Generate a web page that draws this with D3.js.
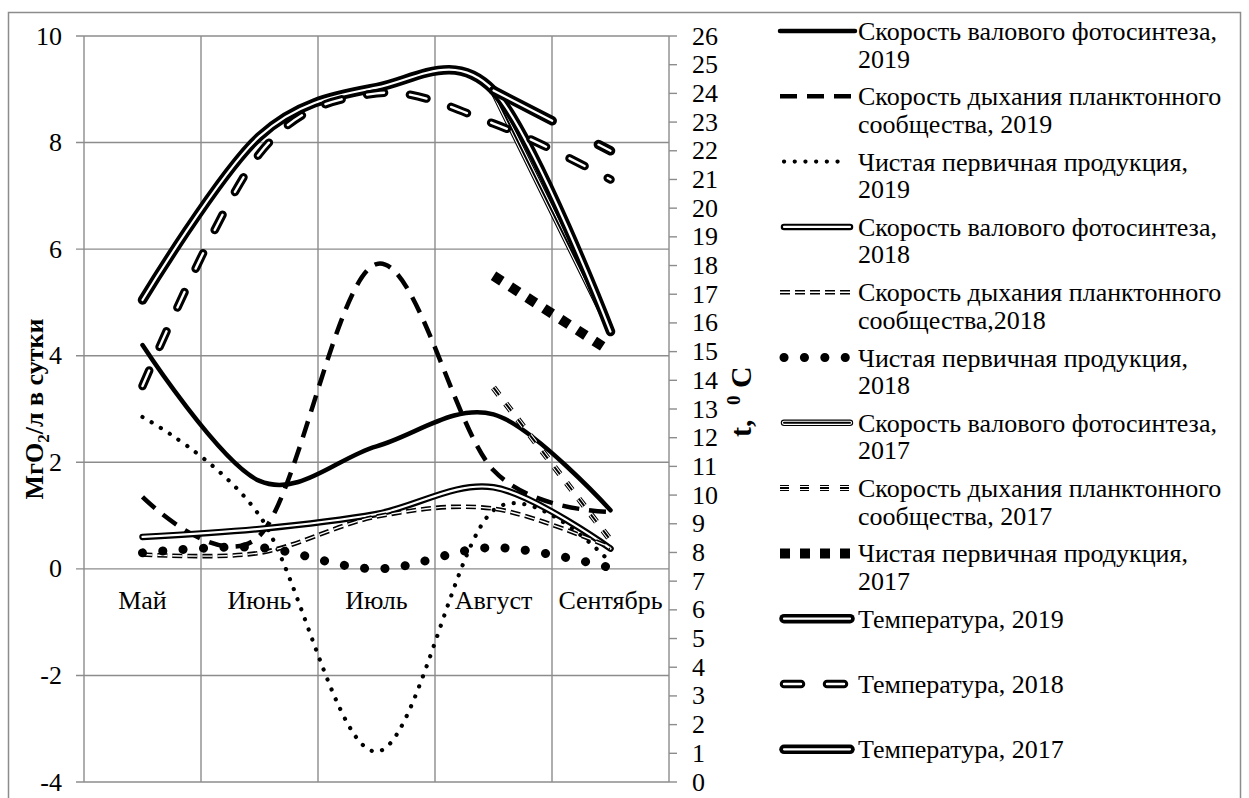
<!DOCTYPE html>
<html><head><meta charset="utf-8">
<script src="https://cdn.jsdelivr.net/npm/d3@7"></script>
<style>
body{margin:0;background:#fff}
</style>
</head><body>
<svg id="c" width="1249" height="798"></svg>
<script>
// ---------- data ----------
const months = ["Май", "Июнь", "Июль", "Август", "Сентябрь"];
const gpp2019  = [4.2, 1.65, 2.3, 2.9, 1.1];
const resp2019 = [1.35, 0.62, 5.72, 1.85, 1.07];
const npp2019  = [2.85, 1.0, -3.43, 1.1, 0.12];
const gpp2018  = [0.6, 0.75, 1.03, 1.53, 0.38];
const resp2018 = [0.27, 0.3, 0.98, 1.13, 0.4];
const npp2018  = [0.3, 0.4, 0.0, 0.4, 0.02];
const gpp2017  = [null, null, null, 8.95, 4.48];
const resp2017 = [null, null, null, 3.4, 0.54];
const npp2017  = [null, null, null, 5.5, 4.08];
const temp2019 = [16.8, 22.5, 24.2, 24.1, 15.7];
const temp2018 = [13.8, 21.9, 24.0, 22.95, 21.0];
const temp2017 = [null, null, null, 24.1, 22.0];
const leftTicks = [-4, -2, 0, 2, 4, 6, 8, 10];
const rightTicks = [0,1,2,3,4,5,6,7,8,9,10,11,12,13,14,15,16,17,18,19,20,21,22,23,24,25,26];
const leftTitle = ["МгО", "2", "/л в сутки"];
const rightTitle = ["t,", "0", "C"];
const seriesNames = [
  ["Скорость валового фотосинтеза,", "2019"],
  ["Скорость дыхания планктонного", "сообщества, 2019"],
  ["Чистая первичная продукция,", "2019"],
  ["Скорость валового фотосинтеза,", "2018"],
  ["Скорость дыхания планктонного", "сообщества,2018"],
  ["Чистая первичная продукция,", "2018"],
  ["Скорость валового фотосинтеза,", "2017"],
  ["Скорость дыхания планктонного", "сообщества, 2017"],
  ["Чистая первичная продукция,", "2017"],
  ["Температура, 2019"],
  ["Температура, 2018"],
  ["Температура, 2017"]
];
const seriesValues = [gpp2019, resp2019, npp2019, gpp2018, resp2018, npp2018,
                      gpp2017, resp2017, npp2017, temp2019, temp2018, temp2017];
const seriesAxis = ["L","L","L","L","L","L","L","L","L","R","R","R"];

// ---------- styles ----------
const FONT = "serif";
const K = "#000", W = "#fff";
const styles = [
  [{w:4.5,c:K}],
  [{w:4.5,c:K,d:"17 10",cap:"butt"}],
  [{w:4.2,c:K,d:"0.1 10.6",cap:"round"}],
  [{w:6.5,c:K,cap:"round"},{w:2.2,c:W,cap:"round"}],
  [{w:4.6,c:K,d:"10 5",cap:"butt"},{w:1.4,c:W,d:"10 5",cap:"butt"}],
  [{w:9,c:K,d:"0.1 20.3",cap:"round"}],
  [{w:6.4,c:K,cap:"round"},{w:4.2,c:W,cap:"round"},{w:2,c:K,cap:"round"}],
  [{w:6,c:K,d:"9 11",cap:"butt"},{w:4,c:W,d:"9 11",cap:"butt"},{w:2,c:K,d:"9 11",cap:"butt"}],
  [{w:10,c:K,d:"10 10",cap:"butt"}],
  [{w:9.5,c:K,cap:"round"},{w:2.2,c:W,cap:"round"}],
  [{w:8.5,c:K,d:"17 26",cap:"round"},{w:2.4,c:W,d:"17 26",cap:"round"}],
  [{w:9.5,c:K,d:"66 52",cap:"round"},{w:2.2,c:W,d:"66 52",cap:"round"}]
];

// ---------- scales ----------
const svg = d3.select("#c");
const x = d3.scalePoint().domain(months).range([84, 669]).padding(0.5);
const yL = d3.scaleLinear().domain([-4, 10]).range([782, 36]);
const yR = d3.scaleLinear().domain([0, 26]).range([782, 36]);
const gridC = "#8c8c8c";

svg.append("rect").attr("x", 8.5).attr("y", 12.5).attr("width", 1232).attr("height", 800)
  .attr("fill", "none").attr("stroke", gridC).attr("stroke-width", 1.5);

svg.append("g").selectAll("line").data(leftTicks).join("line")
  .attr("x1", 76).attr("x2", 669).attr("y1", d => yL(d)).attr("y2", d => yL(d))
  .attr("stroke", gridC).attr("stroke-width", 1.4);
const bounds = months.map(m => x(m) - x.step() / 2).concat([x(months[months.length - 1]) + x.step() / 2]);
svg.append("g").selectAll("line").data(bounds).join("line")
  .attr("x1", d => d).attr("x2", d => d).attr("y1", 36).attr("y2", 782)
  .attr("stroke", gridC).attr("stroke-width", 1.4);
svg.append("g").selectAll("line").data(rightTicks).join("line")
  .attr("x1", 669).attr("x2", 677).attr("y1", d => yR(d)).attr("y2", d => yR(d))
  .attr("stroke", gridC).attr("stroke-width", 1.4);

function txt(sel) { return sel.attr("font-family", FONT).attr("fill", "#000"); }

txt(svg.append("g").selectAll("text").data(leftTicks).join("text"))
  .attr("x", 62).attr("y", d => yL(d) + 8.5).attr("text-anchor", "end")
  .attr("font-size", 26).text(d => d);
txt(svg.append("g").selectAll("text").data(rightTicks).join("text"))
  .attr("x", 692).attr("y", d => yR(d) + 8.5).attr("text-anchor", "start")
  .attr("font-size", 26).text(d => d);
txt(svg.append("g").selectAll("text").data(months).join("text"))
  .attr("x", d => x(d)).attr("y", 609).attr("text-anchor", "middle")
  .attr("font-size", 26).text(d => d);

const lt = txt(svg.append("text")).attr("transform", "translate(43,409) rotate(-90)")
  .attr("text-anchor", "middle").attr("font-size", 26).attr("font-weight", "bold");
lt.append("tspan").text(leftTitle[0]);
lt.append("tspan").attr("dy", 6).attr("font-size", 17).text(leftTitle[1]);
lt.append("tspan").attr("dy", -6).text(leftTitle[2]);
const rt = txt(svg.append("text")).attr("transform", "translate(751,0) rotate(-90)")
  .attr("font-size", 30).attr("font-weight", "bold");
rt.append("tspan").attr("x", -437).attr("y", 0).text(rightTitle[0]);
rt.append("tspan").attr("x", -405).attr("y", -11).attr("font-size", 19).text(rightTitle[1]);
rt.append("tspan").attr("x", -388).attr("y", 0).text(rightTitle[2]);

function drawPath(g, dStr, layers) {
  layers.forEach(s => {
    g.append("path").attr("d", dStr).attr("fill", "none")
      .attr("stroke", s.c).attr("stroke-width", s.w)
      .attr("stroke-dasharray", s.d || null)
      .attr("stroke-linecap", s.cap || "round").attr("stroke-linejoin", "round");
  });
}
const plot = svg.append("g");
seriesValues.forEach((vals, i) => {
  const ys = seriesAxis[i] === "L" ? yL : yR;
  const line = d3.line()
    .defined(d => d[1] !== null)
    .x(d => x(d[0])).y(d => ys(d[1]))
    .curve(d3.curveCardinal.tension(0));
  const pts = months.map((m, j) => [m, vals[j]]);
  drawPath(plot.append("g"), line(pts), styles[i]);
});

const legY0 = 31, legStep = 65.3;
const leg = svg.append("g");
seriesNames.forEach((nm, i) => {
  const yy = legY0 + i * legStep;
  const g = leg.append("g");
  const x0 = (styles[i][0].cap === "round") ? 784 : 780;
  const x1 = (i === 2) ? 845 : (styles[i][0].cap === "round" ? 850 : 855);
  drawPath(g, d3.line()([[x0, yy], [x1, yy]]), styles[i]);
  nm.forEach((t, k) => {
    txt(g.append("text")).attr("x", 858).attr("y", yy + 9 + k * 27.5)
      .attr("font-size", 26).text(t);
  });
});
</script>
</body></html>
